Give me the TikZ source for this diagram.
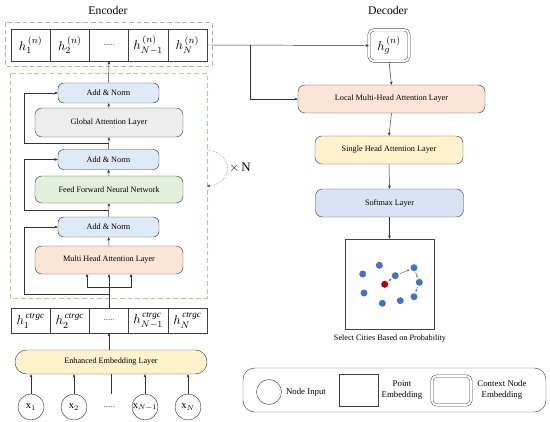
\documentclass[tikz,border=0pt]{standalone}
\usepackage{amsmath, amssymb}
\usepackage{fontspec}
\setmainfont{Liberation Serif}
\usepackage{tikz}
\usetikzlibrary{
  calc,          % Coordinate math for the tap points
  arrows.meta    % Stealth tips
}

% Box colours
\definecolor{normblue}{HTML}{DEEBF7}
\definecolor{globgray}{HTML}{EDEDED}
\definecolor{ffngreen}{HTML}{E2F0D9}
\definecolor{attnorange}{HTML}{FBE5D6}
\definecolor{embyellow}{HTML}{FFF2CC}
\definecolor{softlilac}{HTML}{DAE3F3}
\definecolor{dashgreen}{HTML}{A9D18E}
\definecolor{cityblue}{HTML}{4472C4}
\definecolor{cityred}{HTML}{C00000}

\tikzset{
  >={Stealth[length=2.8pt,width=2.4pt]},
  layer/.style={draw=black!75, rounded corners=6pt, inner sep=0pt,
    font=\fontsize{7}{8}\selectfont, minimum width=4.44cm, minimum height=0.84cm},
  norm/.style={layer, fill=normblue, rounded corners=5pt, minimum width=3.03cm, minimum height=0.6cm},
  cell/.style={draw=black!75, inner sep=0pt, outer sep=0pt, minimum width=1.176cm,
    font=\fontsize{11}{12}\selectfont},
  xin/.style={circle, draw=black!75, inner sep=0pt, minimum size=0.78cm, font=\fontsize{9}{10}\selectfont},
  city/.style={circle, fill=cityblue, inner sep=0pt, minimum size=0.21cm},
  hop/.style={->, >={Stealth[length=2.2pt,width=1.8pt]}, draw=black!60, shorten >=1pt, shorten <=1pt},
  legendtxt/.style={font=\fontsize{7.5}{9}\selectfont, align=center},
}

\begin{document}
\begin{tikzpicture}[x=0.03cm, y=-0.03cm]
    \useasboundingbox (0,0) rectangle (550,422);

    % Titles
    \node[font=\fontsize{10}{12}\selectfont] (enctitle) at (108,10) {Encoder};
    \node[font=\fontsize{10}{12}\selectfont] (dectitle) at (388,10) {Decoder};

    % Encoder output row
    \draw[gray!60, dashed, dash pattern=on 4pt off 2.5pt] (5,22) rectangle (212,66);
    \node[cell, minimum height=0.96cm] (t1) at (30.6,45) {$h_1^{\,(n)}$};
    \node[cell, minimum height=0.96cm] (t2) at (69.8,45) {$h_2^{\,(n)}$};
    \node[cell, minimum height=0.96cm, font=\fontsize{6}{7}\selectfont] (t3) at (109,45) {......};
    \node[cell, minimum height=0.96cm] (t4) at (148.2,45) {$h_{N-1}^{\,(n)}$};
    \node[cell, minimum height=0.96cm] (t5) at (187.4,45) {$h_N^{\,(n)}$};

    % Encoder layer stack
    \draw[dashgreen, dashed, dash pattern=on 4pt off 2.5pt] (10,73) rectangle (207,298);
    \node[norm] (addA) at (108.5,93) {Add \& Norm};
    \node[layer, fill=globgray, minimum height=0.87cm] (glob) at (109,122.5) {Global Attention Layer};
    \node[norm] (addB) at (108.5,159.5) {Add \& Norm};
    \node[layer, fill=ffngreen, minimum height=0.81cm] (ffn) at (109,189.5) {Feed Forward Neural Network};
    \node[norm] (addC) at (108.5,227) {Add \& Norm};
    \node[layer, fill=attnorange] (mha) at (109,260) {Multi Head Attention Layer};

    % Stack arrows
    \draw[->, black!80] (addA.north) -- (t3.south);
    \draw[->, black!80] (glob.north) -- (addA.south);
    \draw[->, black!80] (addB.north) -- (glob.south);
    \draw[->, black!80] (ffn.north) -- (addB.south);
    \draw[->, black!80] (addC.north) -- (ffn.south);
    \draw[->, black!80] (mha.north) -- (addC.south);

    % Input to attention (three branches)
    \coordinate (fork) at (109,287);
    \coordinate (tap3) at (109,294);
    \draw[->, black!80] (fork) -- (mha.south);
    \draw[->, black!80] (fork) -- ++(-22,0) -- ++(0,-13);
    \draw[->, black!80] (fork) -- ++(22,0) -- ++(0,-13);

    % Residual connections
    \coordinate (rail) at (24,0);
    \coordinate (tap1) at ($(glob.south)!0.5!(addB.north)$);
    \coordinate (tap2) at ($(ffn.south)!0.5!(addC.north)$);
    \draw[->, black!80] (tap1) -- (tap1 -| rail) |- (addA.west);
    \draw[->, black!80] (tap2) -- (tap2 -| rail) |- (addB.west);
    \draw[->, black!80] (tap3) -- (tap3 -| rail) |- (addC.west);

    % Repeat N times
    \coordinate (loopA) at (207,150);
    \coordinate (loopB) at (207,186);
    \draw[->, densely dotted, black!70] (loopA) .. controls (234,152) and (234,184) .. (loopB);
    \node[font=\fontsize{11}{12}\selectfont] (times) at (240,168) {$\times$\,N};

    % Point embedding row
    \node[cell, minimum height=0.75cm] (b1) at (30.6,320.5) {$h_1^{\,\mathit{ctrgc}}$};
    \node[cell, minimum height=0.75cm] (b2) at (69.8,320.5) {$h_2^{\,\mathit{ctrgc}}$};
    \node[cell, minimum height=0.75cm, font=\fontsize{6}{7}\selectfont] (b3) at (109,320.5) {......};
    \node[cell, minimum height=0.75cm] (b4) at (148.2,320.5) {$h_{N-1}^{\,\mathit{ctrgc}}$};
    \node[cell, minimum height=0.75cm] (b5) at (187.4,320.5) {$h_N^{\,\mathit{ctrgc}}$};
    \draw[black!80] (b3.north) -- (fork);

    % Embedding layer and inputs
    \node[layer, fill=embyellow, rounded corners=10pt, minimum width=5.76cm, minimum height=0.72cm] (enh) at (111,362) {Enhanced Embedding Layer};
    \draw[->, black!80] (enh.north -| b3) -- (b3.south);
    \node[xin] (x1) at (31,407) {x$_1$};
    \node[xin] (x2) at (74,407) {x$_2$};
    \node[font=\fontsize{6}{7}\selectfont] (xd) at (109,407) {......};
    \node[xin] (x3) at (145,407) {x$_{N-1}$};
    \node[xin] (x4) at (188,407) {x$_N$};
    \draw[->, black!80] (x1) -- (x1 |- enh.south);
    \draw[->, black!80] (x2) -- (x2 |- enh.south);
    \draw[->, black!80] (x3) -- (x3 |- enh.south);
    \draw[->, black!80] (x4) -- (x4 |- enh.south);
    \coordinate (xdtop) at (111,394);
    \draw[black!80] (xdtop) -- (xdtop |- enh.south);

    % Decoder
    \node[draw=black!75, double, double distance=1.6pt, rounded corners=4pt, inner sep=0pt,
      minimum width=1.2cm, minimum height=0.94cm, font=\fontsize{11}{12}\selectfont] (hg) at (389,45.5) {$h_g^{\,(n)}$};
    \node[layer, fill=attnorange, minimum width=5.61cm] (local) at (391.5,99) {Local Multi-Head Attention Layer};
    \node[layer, fill=embyellow] (single) at (389,150) {Single Head Attention Layer};
    \node[layer, fill=softlilac] (soft) at (389.5,203) {Softmax Layer};
    \node[draw=black!75, minimum width=2.67cm, minimum height=2.7cm, inner sep=0pt] (pic) at (389.5,284) {};
    \node[font=\fontsize{7}{8}\selectfont] (caption) at (390,339) {Select Cities Based on Probability};

    \coordinate (br) at (250,45);
    \draw[->, black!80] (t5.east) -- (hg.west);
    \draw[->, black!80] (br) |- (local.west);
    \draw[->, black!80] (hg.south) -- (local.north);
    \draw[->, black!80] (local.south) -- (single.north);
    \draw[->, black!80] (single.south) -- (soft.north);
    \draw[->, black!80] (soft.south) -- (pic.north);

    % Cities
    \node[city] (c1) at (362.7,274) {};
    \node[city] (c2) at (379.3,265.3) {};
    \node[city] (c3) at (395.3,275.7) {};
    \node[city] (c4) at (414,267.7) {};
    \node[city] (c5) at (419.3,282.3) {};
    \node[city] (c6) at (414,296.7) {};
    \node[city] (c7) at (400.3,300.7) {};
    \node[city] (c8) at (382.3,303.3) {};
    \node[city] (c9) at (364,293) {};
    \node[city, fill=cityred] (c0) at (384.7,284.3) {};
    \draw[hop] (c0) -- (c3);
    \draw[hop] (c3) -- (c4);
    \draw[hop] (c4) -- (c5);
    \draw[hop] (c5) -- (c6);

    % Legend
    \draw[black!75, rounded corners=10pt] (243,368) rectangle (546,412);
    \node[xin, minimum size=0.75cm] (lgcirc) at (269,392) {};
    \node[legendtxt] (lgcirctxt) at (306,392) {Node Input};
    \node[draw=black!75, minimum width=1.17cm, minimum height=0.96cm, inner sep=0pt] (lgbox) at (358.5,390) {};
    \node[legendtxt] (lgboxtxt) at (402,390) {Point\\Embedding};
    \node[draw=black!75, double, double distance=1.6pt, rounded corners=4pt, inner sep=0pt,
      minimum width=1.17cm, minimum height=0.87cm] (lgdbl) at (451.5,390.5) {};
    \node[legendtxt] (lgdbltxt) at (502,390) {Context Node\\Embedding};
\end{tikzpicture}
\end{document}
